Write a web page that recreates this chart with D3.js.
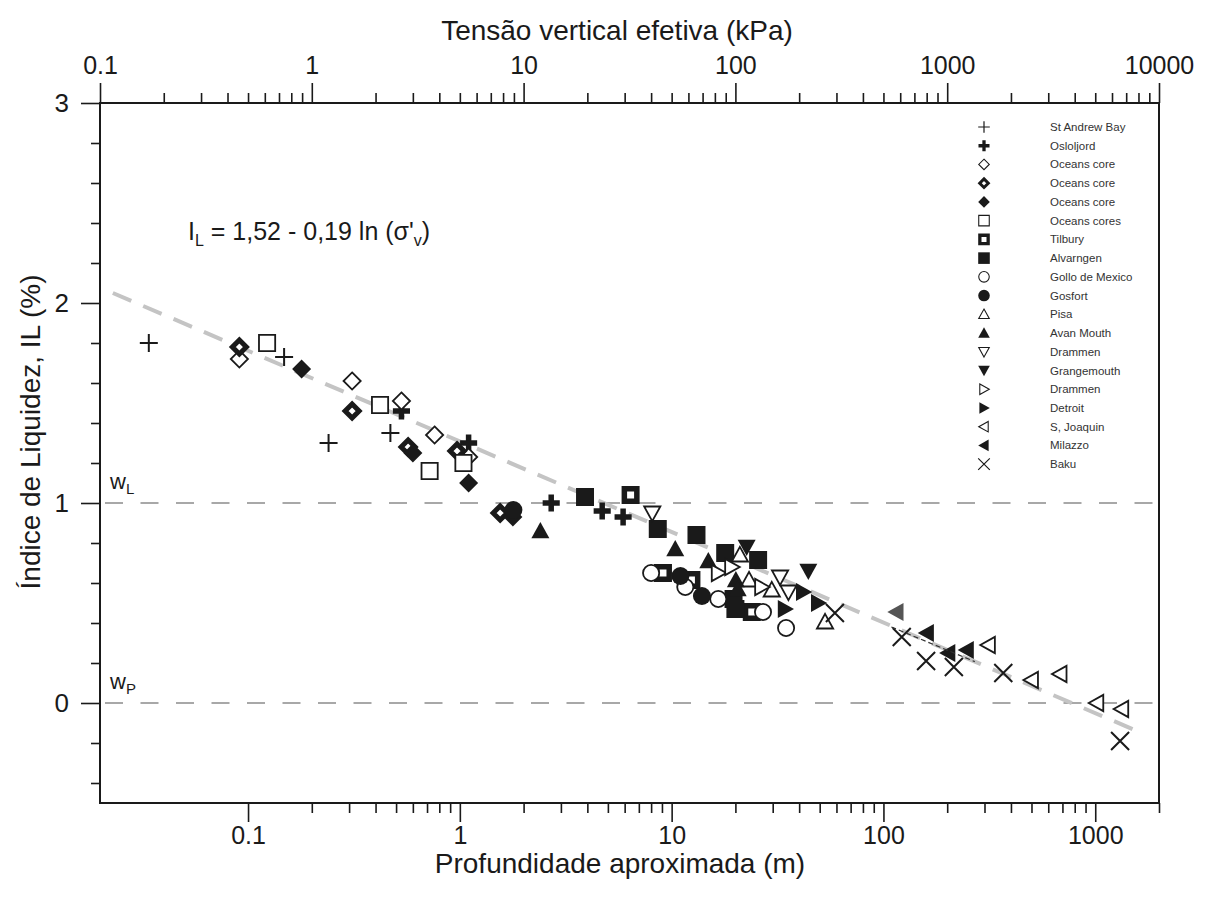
<!DOCTYPE html>
<html>
<head>
<meta charset="utf-8">
<script src="https://cdn.jsdelivr.net/npm/d3@7"></script>
<style>
  body { margin: 0; background: #fff; }
  text { font-family: "Liberation Sans", Arial, Helvetica, sans-serif; fill: #1a1a1a; }
</style>
</head>
<body>
<div id="chart"></div>
<script>
var width = 1217, height = 905;
var plotLeft = 100, plotRight = 1159, plotTop = 103, plotBottom = 803;

// legend order, names and marker kinds
var seriesNames = ["St Andrew Bay", "Osloljord", "Oceans core", "Oceans core", "Oceans core",
  "Oceans cores", "Tilbury", "Alvarngen", "Gollo de Mexico", "Gosfort", "Pisa", "Avan Mouth",
  "Drammen", "Grangemouth", "Drammen", "Detroit", "S, Joaquin", "Milazzo", "Baku"];
var seriesShapes = ["plus", "plus", "diamond", "diamond", "diamond", "square", "square", "square",
  "circle", "circle", "triUp", "triUp", "triDown", "triDown", "triRight", "triRight",
  "triLeft", "triLeft", "x"];
var seriesStyles = ["line", "lineBold", "open", "bold", "fill", "open", "bold", "fill",
  "open", "fill", "open", "fill", "open", "fill", "open", "fill", "open", "fill", "line"];

// [depth (m), liquidity index]
var stAndrewBay = [[0.034, 1.80], [0.148, 1.73], [0.24, 1.30], [0.47, 1.35]];
var osloljord = [[0.53, 1.46], [1.10, 1.30], [2.7, 1.00], [4.7, 0.96], [5.9, 0.93]];
var oceansCoreOpen = [[0.091, 1.72], [0.31, 1.61], [0.53, 1.51], [0.76, 1.34], [1.1, 1.23]];
var oceansCoreBold = [[0.091, 1.78], [0.31, 1.46], [0.57, 1.28], [0.97, 1.26], [1.55, 0.95]];
var oceansCoreFill = [[0.179, 1.67], [0.60, 1.25], [1.1, 1.10], [1.78, 0.93]];
var oceansCores = [[0.123, 1.80], [0.42, 1.49], [0.72, 1.16], [1.04, 1.20]];
var tilbury = [[6.4, 1.04], [9.1, 0.65], [12.4, 0.615], [23.9, 0.455]];
var alvarngen = [[3.9, 1.03], [8.6, 0.87], [13.1, 0.84], [17.9, 0.75], [25.6, 0.715], [19.6, 0.52], [20.0, 0.47]];
var golloDeMexico = [[8.0, 0.65], [11.6, 0.58], [16.6, 0.52], [27.0, 0.455], [34.7, 0.375]];
var gosfort = [[1.79, 0.965], [11.0, 0.635], [13.9, 0.535]];
var pisa = [[21.0, 0.74], [23.2, 0.615], [29.7, 0.565], [53, 0.405]];
var avanMouth = [[2.4, 0.86], [10.4, 0.77], [14.9, 0.71], [20.1, 0.615], [20.5, 0.57]];
var drammenDown = [[8.1, 0.95], [32.5, 0.63], [35.6, 0.555]];
var grangemouth = [[22.6, 0.78], [44.2, 0.66]];
var drammenRight = [[16.6, 0.65], [19.2, 0.68], [26.6, 0.58]];
var detroit = [[34.3, 0.47], [41.8, 0.555], [49.2, 0.50]];
var sJoaquin = [[313, 0.29], [500, 0.115], [682, 0.145], [1017, 0.0], [1334, -0.03]];
var milazzo = [[115, 0.455], [160, 0.35], [202, 0.25], [247, 0.265]];
var baku = [[59, 0.45], [122, 0.33], [159, 0.21], [215, 0.18], [368, 0.15], [1310, -0.19]];

var seriesData = [stAndrewBay, osloljord, oceansCoreOpen, oceansCoreBold, oceansCoreFill,
  oceansCores, tilbury, alvarngen, golloDeMexico, gosfort, pisa, avanMouth, drammenDown,
  grangemouth, drammenRight, detroit, sJoaquin, milazzo, baku];

// fitted trend (drawn), and the short Milazzo trend
var trendLine = [[0.023, 2.05], [1575, -0.14]];
var milazzoTrend = [[109, 0.38], [270, 0.207]];

var topTickLabels = [0.1, 1, 10, 100, 1000, 10000];
var bottomTickLabels = [0.1, 1, 10, 100, 1000];
var yTickLabels = [0, 1, 2, 3];

var svg = d3.select("#chart").append("svg")
  .attr("width", width).attr("height", height);

var xTop = d3.scaleLog().domain([0.1, 10000]).range([plotLeft, plotRight]);
var xBot = d3.scaleLog().domain([0.02, 2000]).range([plotLeft, plotRight]);
var y = d3.scaleLinear().domain([-0.5, 3]).range([plotBottom, plotTop]);

function noDomain(g) { g.select(".domain").remove(); }
function tickStyle(g) { g.selectAll(".tick line").attr("stroke", "#1a1a1a").attr("stroke-width", 1.6); }

// top axis
var topMinor = xTop.ticks().filter(function(d) { return topTickLabels.indexOf(+d.toPrecision(6)) < 0; });
svg.append("g").attr("transform", "translate(0," + plotTop + ")")
  .call(d3.axisTop(xTop).tickValues(topMinor).tickSize(10).tickFormat(""))
  .call(noDomain).call(tickStyle);
svg.append("g").attr("transform", "translate(0," + plotTop + ")")
  .call(d3.axisTop(xTop).tickValues(topTickLabels).tickSize(20).tickPadding(9).tickFormat(function(d) { return String(d); }))
  .call(noDomain).call(tickStyle)
  .selectAll("text").attr("font-size", 25);

// bottom axis
var botMinor = xBot.ticks().filter(function(d) { return d > 0.15 && bottomTickLabels.indexOf(+d.toPrecision(6)) < 0; });
svg.append("g").attr("transform", "translate(0," + plotBottom + ")")
  .call(d3.axisBottom(xBot).tickValues(botMinor).tickSize(10).tickFormat(""))
  .call(noDomain).call(tickStyle);
svg.append("g").attr("transform", "translate(0," + plotBottom + ")")
  .call(d3.axisBottom(xBot).tickValues(bottomTickLabels).tickSize(19).tickPadding(4).tickFormat(function(d) { return String(d); }))
  .call(noDomain).call(tickStyle)
  .selectAll("text").attr("font-size", 25);

// left axis
var yMinor = d3.range(-2, 15).map(function(i) { return i * 0.2; }).filter(function(d) { return Math.abs(d - Math.round(d)) > 0.01; });
svg.append("g").attr("transform", "translate(" + plotLeft + ",0)")
  .call(d3.axisLeft(y).tickValues(yMinor).tickSize(9).tickFormat(""))
  .call(noDomain).call(tickStyle);
svg.append("g").attr("transform", "translate(" + plotLeft + ",0)")
  .call(d3.axisLeft(y).tickValues(yTickLabels).tickSize(19).tickPadding(12).tickFormat(d3.format("d")))
  .call(noDomain).call(tickStyle)
  .selectAll("text").attr("font-size", 26);

// frame
svg.append("rect")
  .attr("x", plotLeft).attr("y", plotTop)
  .attr("width", plotRight - plotLeft).attr("height", plotBottom - plotTop)
  .attr("fill", "none").attr("stroke", "#1a1a1a").attr("stroke-width", 2);

// titles
svg.append("text").attr("x", 617).attr("y", 40).attr("text-anchor", "middle")
  .attr("font-size", 28).text("Tensão vertical efetiva (kPa)");
svg.append("text").attr("x", 620).attr("y", 873).attr("text-anchor", "middle")
  .attr("font-size", 28).text("Profundidade aproximada (m)");
svg.append("text").attr("transform", "translate(40,432) rotate(-90)").attr("text-anchor", "middle")
  .attr("font-size", 28).text("Índice de Liquidez, IL (%)");

// wL / wP reference lines
[1, 0].forEach(function(v) {
  svg.append("line")
    .attr("x1", plotLeft + 5).attr("x2", plotRight + 10)
    .attr("y1", y(v)).attr("y2", y(v))
    .attr("stroke", "#a8a8a8").attr("stroke-width", 2)
    .attr("stroke-dasharray", "18,17.5");
});
[["L", 1], ["P", 0]].forEach(function(p) {
  var t = svg.append("text").attr("x", 110).attr("y", y(p[1]) - 14).attr("font-size", 22);
  t.append("tspan").text("w");
  t.append("tspan").attr("font-size", 15).attr("dy", 5).text(p[0]);
});

// equation
var eq = svg.append("text").attr("x", 188).attr("y", 240).attr("font-size", 25);
eq.append("tspan").text("I");
eq.append("tspan").attr("font-size", 16).attr("dy", 6).text("L");
eq.append("tspan").attr("dy", -6).text(" = 1,52 - 0,19 ln (σ'");
eq.append("tspan").attr("font-size", 16).attr("dy", 6).text("v");
eq.append("tspan").attr("dy", -6).text(")");

// trend lines
var line = d3.line().x(function(d) { return xBot(d[0]); }).y(function(d) { return y(d[1]); });
svg.append("path").datum(trendLine).attr("d", line)
  .attr("fill", "none").attr("stroke", "#c4c4c4").attr("stroke-width", 4)
  .attr("stroke-dasharray", "20,13");

// marker shapes
function shapePath(kind, s) {
  var h = s * 0.8;
  switch (kind) {
    case "plus": return "M" + (-s) + ",0H" + s + "M0," + (-s) + "V" + s;
    case "x": return "M" + (-s) + "," + (-s) + "L" + s + "," + s + "M" + (-s) + "," + s + "L" + s + "," + (-s);
    case "diamond": return "M0," + (-s) + "L" + s + ",0L0," + s + "L" + (-s) + ",0Z";
    case "square": return "M" + (-s) + "," + (-s) + "H" + s + "V" + s + "H" + (-s) + "Z";
    case "circle": return "M" + s + ",0A" + s + "," + s + " 0 1,1 " + (-s) + ",0A" + s + "," + s + " 0 1,1 " + s + ",0Z";
    case "triUp": return "M0," + (-s) + "L" + s + "," + h + "L" + (-s) + "," + h + "Z";
    case "triDown": return "M0," + s + "L" + s + "," + (-h) + "L" + (-s) + "," + (-h) + "Z";
    case "triRight": return "M" + s + ",0L" + (-h) + "," + (-s) + "L" + (-h) + "," + s + "Z";
    case "triLeft": return "M" + (-s) + ",0L" + h + "," + (-s) + "L" + h + "," + s + "Z";
  }
}

function drawMarker(g, i, s, k, col) {
  var kind = seriesShapes[i], style = seriesStyles[i];
  col = col || "#1a1a1a";
  if (style === "line") {
    g.append("path").attr("d", shapePath(kind, s)).attr("fill", "none").attr("stroke", col).attr("stroke-width", 2 * k);
  } else if (style === "lineBold") {
    g.append("path").attr("d", shapePath(kind, s * 0.95)).attr("fill", "none").attr("stroke", col).attr("stroke-width", 5.5 * k);
  } else if (style === "open") {
    var sw = 1.8 * k;
    g.append("path").attr("d", shapePath(kind, s - sw / 2)).attr("fill", "#fff").attr("stroke", col).attr("stroke-width", sw);
  } else if (style === "bold") {
    var bw = (kind === "square" ? 5.5 : 5) * k;
    g.append("path").attr("d", shapePath(kind, s - bw / 2)).attr("fill", "#fff").attr("stroke", col).attr("stroke-width", bw);
  } else {
    g.append("path").attr("d", shapePath(kind, s)).attr("fill", col).attr("stroke", "none");
  }
}

function markerSize(kind) {
  if (kind === "diamond") return 9.5;
  return 9;
}

var pts = svg.append("g");
seriesData.forEach(function(data, i) {
  data.forEach(function(d, j) {
    var g = pts.append("g").attr("transform", "translate(" + xBot(d[0]) + "," + y(d[1]) + ")");
    // the first Milazzo marker is printed lighter
    var col = (data === milazzo && j === 0) ? "#555" : null;
    drawMarker(g, i, markerSize(seriesShapes[i]), 1, col);
  });
});

svg.append("path").datum(milazzoTrend).attr("d", line)
  .attr("fill", "none").attr("stroke", "#333").attr("stroke-width", 1.2)
  .attr("stroke-dasharray", "5,3");

// legend
var legend = svg.append("g");
seriesNames.forEach(function(name, i) {
  var ly = 127 + i * 18.73;
  var g = legend.append("g").attr("transform", "translate(984," + ly + ")");
  drawMarker(g, i, 5.8, 0.6);
  legend.append("text").attr("x", 1050).attr("y", ly).attr("dy", "0.35em")
    .attr("font-size", 11.5).style("fill", "#333").text(name);
});
</script>
</body>
</html>
